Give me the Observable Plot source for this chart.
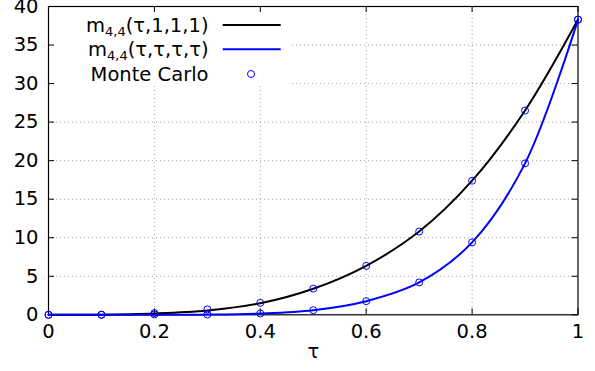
<!DOCTYPE html>
<html><head><meta charset="utf-8">
<script src="https://cdn.jsdelivr.net/npm/d3@7"></script>
<script src="https://cdn.jsdelivr.net/npm/@observablehq/plot@0.6"></script>
<style>body{margin:0;background:#fff;}</style>
</head><body>
<script>
// ---- data ----
const tau = [0, 0.1, 0.2, 0.3, 0.4, 0.5, 0.6, 0.7, 0.8, 0.9, 1.0];
const m111 = [0, 0.02, 0.17, 0.56, 1.5, 3.38, 6.36, 10.8, 17.4, 26.5, 38.3];   // m_{4,4}(τ,1,1,1)
const mAll = [0, 0, 0.005, 0.03, 0.17, 0.6, 1.77, 4.2, 9.4, 19.65, 38.3];     // m_{4,4}(τ,τ,τ,τ)
const mcTau = [0, 0.1, 0.2, 0.3, 0.4, 0.5, 0.6, 0.7, 0.8, 0.9, 1.0];
const mc111 = [0, 0.02, 0.22, 0.7, 1.55, 3.4, 6.35, 10.8, 17.4, 26.5, 38.3];
const mcAll = [0, 0, 0.05, 0.04, 0.17, 0.6, 1.77, 4.2, 9.4, 19.65, 38.3];
const xTicks = [0, 0.2, 0.4, 0.6, 0.8, 1];
const xTickLabels = ["0", "0.2", "0.4", "0.6", "0.8", "1"];
const yTicks = [0, 5, 10, 15, 20, 25, 30, 35, 40];
const xGrid = [0.2, 0.4, 0.6, 0.8];
const yGrid = [5, 10, 15, 20, 25, 30, 35];
const xLabel = "τ";
const legendEntries = [
  {main: "m", sub: "4,4", rest: "(τ,1,1,1)", kind: "line", color: "#000000"},
  {main: "m", sub: "4,4", rest: "(τ,τ,τ,τ)", kind: "line", color: "#0000ff"},
  {main: "Monte Carlo", sub: "", rest: "", kind: "dot", color: "#0000ff"}
];

const curve111 = tau.map((t, i) => ({tau: t, value: m111[i]}));
const curveAll = tau.map((t, i) => ({tau: t, value: mAll[i]}));
const mcRows = [
  ...mcTau.map((t, i) => ({tau: t, value: mc111[i]})),
  ...mcTau.map((t, i) => ({tau: t, value: mcAll[i]}))
];

const W = 595, H = 371;
const mL = 48, mR = 17.5, mT = 6, mB = 56.7;
const pw = W - mL - mR, ph = H - mT - mB;
const FONT = "DejaVu Sans";

const svg = Plot.plot({
  width: W, height: H,
  marginLeft: mL, marginRight: mR, marginTop: mT, marginBottom: mB,
  style: {fontFamily: FONT, fontSize: "19.5px", background: "white", color: "black", overflow: "visible"},
  x: {domain: [0, 1]},
  y: {domain: [0, 40]},
  marks: [
    Plot.gridX(xGrid, {stroke: "#a0a0a0", strokeOpacity: 1, strokeDasharray: "1,3"}),
    Plot.gridY(yGrid, {stroke: "#a0a0a0", strokeOpacity: 1, strokeDasharray: "1,3"}),
    // inward ticks on all four sides
    Plot.tickX(xTicks, {x: d => d, insetTop: ph - 6, stroke: "black"}),
    Plot.tickX(xTicks, {x: d => d, insetBottom: ph - 6, stroke: "black"}),
    Plot.tickY(yTicks, {y: d => d, insetRight: pw - 6, stroke: "black"}),
    Plot.tickY(yTicks, {y: d => d, insetLeft: pw - 6, stroke: "black"}),
    Plot.axisX(xTicks, {anchor: "bottom", tickSize: 0, tickPadding: 9, label: null, fontSize: "19.5px",
      tickFormat: d => xTickLabels[xTicks.indexOf(d)]}),
    Plot.axisY(yTicks, {anchor: "left", tickSize: 0, tickPadding: 10, label: null, fontSize: "19.5px"}),
    Plot.text([xLabel], {text: d => d, frameAnchor: "bottom", dy: 43, fontSize: "19.5px"}),
    Plot.frame({stroke: "black", strokeWidth: 1.2}),
    Plot.line(curve111, {x: "tau", y: "value", stroke: "#000000", strokeWidth: 2, curve: "catmull-rom"}),
    Plot.line(curveAll, {x: "tau", y: "value", stroke: "#0000ff", strokeWidth: 2, curve: "catmull-rom"}),
    Plot.dot(mcRows, {x: "tau", y: "value", r: 3.5, stroke: "#0000ff", strokeWidth: 1, fill: "none"})
  ]
});
document.body.appendChild(svg);

// ---- legend (opaque key box, drawn above grid, below ticks) ----
const ns = "http://www.w3.org/2000/svg";
const gridY = svg.querySelector('g[aria-label="y-grid"]');
const box = document.createElementNS(ns, "rect");
box.setAttribute("x", mL + 0.8); box.setAttribute("y", 12);
box.setAttribute("width", 242); box.setAttribute("height", 74);
box.setAttribute("fill", "white");
gridY.parentNode.insertBefore(box, gridY.nextSibling);

const lg = d3.select(svg).append("g")
  .attr("font-family", FONT).attr("font-size", "19.5px").attr("fill", "black");
const rowY = [25, 49.3, 74];
legendEntries.forEach((e, i) => {
  const y = rowY[i];
  const t = lg.append("text").attr("x", 208.5).attr("text-anchor", "end");
  if (e.sub) {
    t.attr("y", y + 6.5);
    t.append("tspan").text(e.main);
    t.append("tspan").attr("font-size", "13px").attr("dy", 4).text(e.sub);
    t.append("tspan").attr("dy", -4).text(e.rest);
  } else {
    t.attr("y", y + 7).text(e.main);
  }
  if (e.kind === "line") {
    lg.append("line").attr("x1", 222.7).attr("x2", 280.7).attr("y1", y).attr("y2", y)
      .attr("stroke", e.color).attr("stroke-width", 2);
  } else {
    lg.append("circle").attr("cx", 251).attr("cy", y).attr("r", 3.5)
      .attr("fill", "none").attr("stroke", e.color).attr("stroke-width", 1);
  }
});
</script>
</body></html>
